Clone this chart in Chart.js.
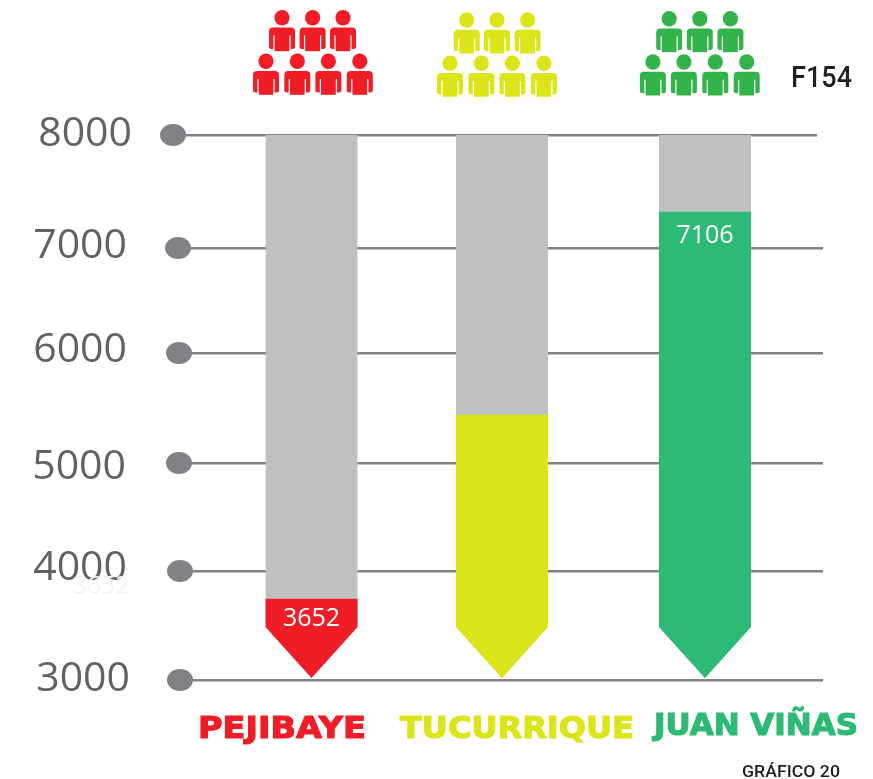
<!DOCTYPE html>
<html><head><meta charset="utf-8">
<style>html,body{margin:0;padding:0;background:#fff}#w{width:873px;height:779px;position:relative}</style>
<script src="https://cdn.jsdelivr.net/npm/chart.js@4"></script></head>
<body><div id="w"><canvas id="c" width="873" height="779"></canvas></div>
<script>
const categories = ["PEJIBAYE", "TUCURRIQUE", "JUAN VIÑAS"];
const barLevels = [3743, 5431, 7293];
const printedValues = ["3652", "", "7106"];
const tickValues = [3000, 4000, 5000, 6000, 7000, 8000];
const tickLabels = ["3000", "4000", "5000", "6000", "7000", "8000"];
const axisMin = 3000;
const axisMax = 8000;
const fullBar = categories.map(() => [axisMin, axisMax]);
const seriesBar = barLevels.map(v => [axisMin, v]);
const barColors = ["#f01c26", "#dce51a", "#2dba74"];
const iconColors = ["#f01c26", "#dce51a", "#32b44a"];

const barNudge = [30.2, 4, -9.7];
const lineNudge = [0, 0, 1, 0, 4, 0];
const dotX = [180, 180, 179, 179, 178, 173];
const labelNudgeX = [1, -2, -3, -2, -2, 3];
const labelNudgeY = [-1, -3, 4, -3, -2, -1];

const shapeAndTextPlugin = {
  id: "shapeAndText",
  afterDatasetsUpdate(chart) {
    chart.data.datasets.forEach((_, d) => {
      chart.getDatasetMeta(d).data.forEach((el, i) => { el.x += barNudge[i]; });
    });
  },
  beforeDatasetDraw(chart, args) {
    const ctx = chart.ctx, els = args.meta.data, y = chart.scales.y;
    const base = y.getPixelForValue(axisMin) - 2, shoulder = base - 51;
    ctx.save();
    ctx.beginPath();
    els.forEach(el => {
      const l = el.x - el.width / 2, r = el.x + el.width / 2;
      ctx.moveTo(l, 0); ctx.lineTo(r, 0); ctx.lineTo(r, shoulder);
      ctx.lineTo(el.x, base); ctx.lineTo(l, shoulder); ctx.closePath();
    });
    ctx.clip();
  },
  afterDatasetDraw(chart) { chart.ctx.restore(); },
  beforeDatasetsDraw(chart) {
    const ctx = chart.ctx, y = chart.scales.y;
    ctx.save();
    ctx.fillStyle = "#fff";
    ctx.fillRect(817, y.getPixelForValue(axisMax) - 3, 8, 6);
    ctx.fillStyle = "#f3f3f3";
    ctx.font = "25px 'Open Sans'";
    ctx.textAlign = "center"; ctx.textBaseline = "middle";
    ctx.fillText(printedValues[0], 101, 587);
    ctx.fillStyle = "#808285";
    tickValues.forEach((v, i) => {
      ctx.beginPath();
      ctx.ellipse(dotX[i], y.getPixelForTick(i), 13, 11, 0, 0, Math.PI * 2);
      ctx.fill();
    });
    ctx.restore();
  },
  afterDraw(chart) {
    const ctx = chart.ctx, meta = chart.getDatasetMeta(1);
    ctx.save();
    ctx.textBaseline = "middle"; ctx.textAlign = "center";
    ctx.fillStyle = "#fff"; ctx.font = "25px 'Open Sans'";
    printedValues.forEach((t, i) => {
      if (t) ctx.fillText(t, meta.data[i].x, meta.data[i].y + (i === 0 ? 20 : 24));
    });
    const boxes = [[198, 366, 738], [400, 634, 738], [654, 858, 735]];
    ctx.textAlign = "left"; ctx.textBaseline = "alphabetic";
    ctx.font = "bold 31px 'DejaVu Sans'";
    categories.forEach((t, i) => fitted(ctx, t, boxes[i], barColors[i], 1.2));
    ctx.font = "500 30px Roboto";
    fitted(ctx, "F154", [791, 852, 87], "#231f20", 0);
    ctx.font = "500 16px Roboto";
    fitted(ctx, "GRÁFICO 20", [742, 840, 777], "#231f20", 0);
    const groups = [
      [[282, 312.6, 343], 17.7, [266, 297.3, 328.4, 359.8], 61.3],
      [[466.7, 497, 527.6], 20, [450, 481.4, 512.4, 543.9], 63.3],
      [[669.2, 699.8, 730.4], 18.7, [652.9, 683.9, 715.3, 746.7], 62]
    ];
    groups.forEach((g, i) => {
      g[0].forEach(x => person(ctx, x, g[1], iconColors[i]));
      g[2].forEach(x => person(ctx, x, g[3], iconColors[i]));
    });
    ctx.restore();
  }
};
function fitted(ctx, text, box, color, stroke) {
  const w = ctx.measureText(text).width;
  ctx.save();
  ctx.translate(box[0], box[2]);
  ctx.scale((box[1] - box[0]) / w, 1);
  ctx.fillStyle = color; ctx.fillText(text, 0, 0);
  if (stroke) { ctx.strokeStyle = color; ctx.lineWidth = stroke; ctx.strokeText(text, 0, 0); }
  ctx.restore();
}
function person(ctx, x, cy, color) {
  ctx.fillStyle = color;
  ctx.beginPath(); ctx.ellipse(x, cy, 7.6, 7.8, 0, 0, Math.PI * 2); ctx.fill();
  const top = cy + 9.7;
  ctx.beginPath(); ctx.roundRect(x - 13, top, 26, 21.5, [4, 4, 2.5, 2.5]); ctx.fill();
  ctx.fillRect(x - 7.5, top + 10, 15, 13.8);
  ctx.fillStyle = "#fff";
  ctx.fillRect(x - 8.6, top + 8, 1.2, 16);
  ctx.fillRect(x + 7.4, top + 8, 1.2, 16);
}

new Chart(document.getElementById("c"), {
  type: "bar",
  data: {
    labels: categories,
    datasets: [
      { label: "Total", data: fullBar, backgroundColor: "#bfc0c2", grouped: false, barThickness: 92, order: 2 },
      { label: "F154", data: seriesBar, backgroundColor: barColors, grouped: false, barThickness: 92, order: 1 }
    ]
  },
  plugins: [shapeAndTextPlugin],
  options: {
    responsive: false,
    animation: false,
    layout: { padding: { top: 135, right: 50, bottom: 99, left: 0 } },
    plugins: { legend: { display: false }, tooltip: { enabled: false }, title: { display: false } },
    scales: {
      x: { display: false, offset: true, grid: { display: false } },
      y: {
        min: axisMin, max: axisMax,
        afterFit(s) {
          s.width = 173;
          s.getPixelForTick = i => s.getPixelForValue(tickValues[i]) + (lineNudge[i] || 0);
          const compute = s.constructor.prototype._computeLabelItems;
          s._computeLabelItems = function (area) {
            return compute.call(this, area).map((item, i) => {
              const t = item.options.translation;
              item.options.translation = [t[0] + labelNudgeX[i], t[1] + labelNudgeY[i] - lineNudge[i] * 0];
              return item;
            });
          };
        },
        afterBuildTicks(s) { s.ticks = tickValues.map(v => ({ value: v })); },
        border: { display: false },
        grid: { color: "#808285", lineWidth: 2.4, drawTicks: false },
        ticks: {
          autoSkip: false, padding: 44, color: "#616264",
          font: { family: "'Open Sans'", size: 41 },
          callback: (v) => tickLabels[tickValues.indexOf(v)]
        }
      }
    }
  }
});
</script></body></html>
